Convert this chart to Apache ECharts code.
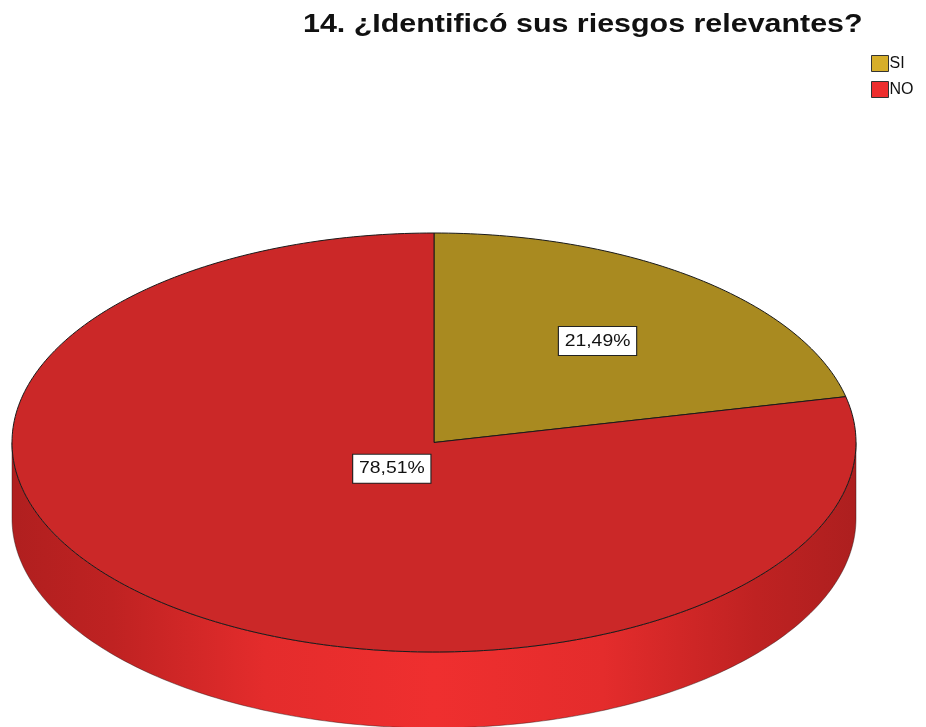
<!DOCTYPE html>
<html>
<head>
<meta charset="utf-8">
<script src="https://cdn.jsdelivr.net/npm/echarts@6/dist/echarts.min.js"></script>
<style>
  html, body { margin: 0; padding: 0; background: #ffffff; }
  #chart { width: 926px; height: 727px; }
</style>
</head>
<body>
<div id="chart"></div>
<script>
// Answers and their shares (percent)
const categories = ['SI', 'NO'];
const percents = [21.49, 78.51];
const percentLabels = ['21,49%', '78,51%'];
const titleText = '14. ¿Identificó sus riesgos relevantes?';

// Visual settings
const topColors = ['#a98a20', '#cb2828'];
const legendColors = ['#d6ae2a', '#ee2e2e'];
const pie = { cx: 434, cy: 442.5, rx: 422, ry: 209.5, depth: 76 };
const labelRadius = [0.62, 0.16];
const FONT = '"Liberation Sans", Arial, sans-serif';
const WIDE = 1.14; // horizontal stretch of the drawn text

const total = percents.reduce((a, b) => a + b, 0);
const startFractions = [];
{
  let acc = 0;
  for (const p of percents) { startFractions.push(acc / total); acc += p; }
}

// angle measured clockwise from 12 o'clock, in radians
function pt(theta, f, dy) {
  return [pie.cx + pie.rx * f * Math.sin(theta), pie.cy - pie.ry * f * Math.cos(theta) + (dy || 0)];
}

function arcPoints(a0, a1, dy) {
  const pts = [];
  const n = Math.max(2, Math.ceil((a1 - a0) / (Math.PI / 180)));
  for (let i = 0; i <= n; i++) pts.push(pt(a0 + (a1 - a0) * i / n, 1, dy));
  return pts;
}

function wallGradient(idx) {
  const red = ['#b01f1f', '#bf2222', '#e42c2c', '#ef2f2f', '#e42c2c', '#bf2222', '#ad1f1f'];
  const gold = ['#7d6616', '#8d7218', '#a98a20', '#b8961f', '#a98a20', '#8d7218', '#7d6616'];
  const cols = idx === 1 ? red : gold;
  const offs = [0, 0.12, 0.3, 0.5, 0.7, 0.88, 1];
  return new echarts.graphic.LinearGradient(0, 0, 1, 0,
    offs.map((o, k) => ({ offset: o, color: cols[k] })));
}

function makeRender(idx) {
  return function (params, api) {
    const frac = api.value(0) / total;
    const a0 = startFractions[idx] * 2 * Math.PI;
    const a1 = a0 + frac * 2 * Math.PI;
    const children = [];

    // side wall: only the front half (90°..270°) is visible
    const lo = Math.max(a0, Math.PI / 2);
    const hi = Math.min(a1, Math.PI * 3 / 2);
    if (hi > lo) {
      const upper = arcPoints(lo, hi, 0);
      const lower = arcPoints(lo, hi, pie.depth).reverse();
      children.push({
        type: 'polygon',
        shape: { points: upper.concat(lower) },
        style: {
          fill: wallGradient(idx),
          stroke: 'rgba(40,20,20,0.55)',
          lineWidth: 0.8
        }
      });
    }

    // top face
    const topPts = [[pie.cx, pie.cy]].concat(arcPoints(a0, a1, 0));
    children.push({
      type: 'polygon',
      shape: { points: topPts },
      style: { fill: topColors[idx], stroke: '#1a1a1a', lineWidth: 1 }
    });

    // value label
    const mid = (a0 + a1) / 2;
    const lp = pt(mid, labelRadius[idx], 0);
    children.push({
      type: 'text',
      x: lp[0],
      y: lp[1],
      scaleX: WIDE,
      style: {
        text: percentLabels[idx],
        font: '17px ' + FONT,
        fill: '#111',
        align: 'center',
        verticalAlign: 'middle',
        backgroundColor: '#ffffff',
        borderColor: '#222',
        borderWidth: 1,
        padding: [6, 5, 5, 5]
      },
      z2: 10
    });

    return { type: 'group', children: children };
  };
}

const chart = echarts.init(document.getElementById('chart'), null, { renderer: 'canvas' });

chart.setOption({
  animation: false,
  backgroundColor: '#ffffff',
  graphic: [{
    type: 'text',
    x: 303,
    y: 12,
    scaleX: 1.17,
    style: {
      text: titleText,
      font: 'bold 26px ' + FONT,
      fill: '#111',
      align: 'left',
      verticalAlign: 'top'
    }
  }],
  legend: {
    orient: 'vertical',
    left: 866,
    top: 50,
    icon: 'rect',
    itemWidth: 17,
    itemHeight: 16,
    itemGap: 9,
    selectedMode: false,
    textStyle: {
      fontFamily: FONT,
      fontSize: 16,
      color: '#111',
      padding: [0, 0, 0, -4]
    },
    data: categories.map((c, i) => ({
      name: c,
      itemStyle: { color: legendColors[i], borderColor: '#333', borderWidth: 1 }
    }))
  },
  series: categories.map((c, i) => ({
    type: 'custom',
    name: c,
    coordinateSystem: 'none',
    itemStyle: { color: legendColors[i] },
    renderItem: makeRender(i),
    data: [[percents[i]]]
  }))
});
</script>
</body>
</html>
